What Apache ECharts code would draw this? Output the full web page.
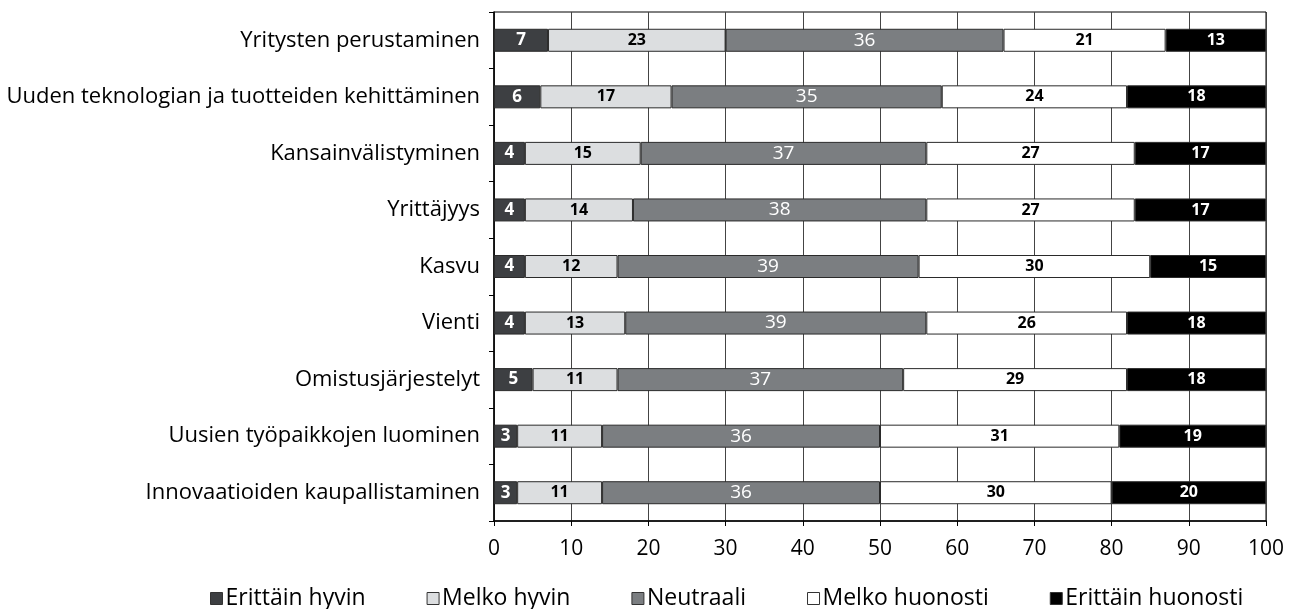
<!DOCTYPE html>
<html>
<head>
<meta charset="utf-8">
<script src="https://cdn.jsdelivr.net/npm/echarts@6/dist/echarts.min.js"></script>
<style>
  html, body { margin: 0; padding: 0; background: #fff; }
  #chart { width: 1293px; height: 609px; }
</style>
</head>
<body>
<div id="chart"></div>
<script>
var categories = [
  "Yritysten perustaminen",
  "Uuden teknologian ja tuotteiden kehittäminen",
  "Kansainvälistyminen",
  "Yrittäjyys",
  "Kasvu",
  "Vienti",
  "Omistusjärjestelyt",
  "Uusien työpaikkojen luominen",
  "Innovaatioiden kaupallistaminen"
];
var seriesNames = ["Erittäin hyvin", "Melko hyvin", "Neutraali", "Melko huonosti", "Erittäin huonosti"];
var erittainHyvin = [7, 6, 4, 4, 4, 4, 5, 3, 3];
var melkoHyvin = [23, 17, 15, 14, 12, 13, 11, 11, 11];
var neutraali = [36, 35, 37, 38, 39, 39, 37, 36, 36];
var melkoHuonosti = [21, 24, 27, 27, 30, 26, 29, 31, 30];
var erittainHuonosti = [13, 18, 17, 17, 15, 18, 18, 19, 20];
var xTicks = { min: 0, max: 100, interval: 10 };

var font = "'Open Sans', sans-serif";
var values = [erittainHyvin, melkoHyvin, neutraali, melkoHuonosti, erittainHuonosti];
var colors = ["#3d3f42", "#dcdee0", "#7b7e81", "#ffffff", "#000000"];
var labelColors = ["#fff", "#000", "#fff", "#000", "#fff"];
var labelWeights = ["bold", "bold", "normal", "bold", "bold"];
var labelSizes = [17, 16, 19, 16, 16];

var series = values.map(function (data, i) {
  return {
    name: seriesNames[i],
    type: "bar",
    stack: "total",
    barWidth: 23,
    data: data,
    itemStyle: {
      color: colors[i],
      borderColor: "#2a2a2a",
      borderWidth: 1
    },
    label: {
      show: true,
      position: "inside",
      color: labelColors[i],
      fontWeight: labelWeights[i],
      fontSize: labelSizes[i],
      fontFamily: font
    }
  };
});

var chart = echarts.init(document.getElementById("chart"));
chart.setOption({
  animation: false,
  grid: {
    left: 494,
    right: 27,
    top: 12,
    bottom: 88,
    show: true,
    borderColor: "#000",
    borderWidth: 1
  },
  legend: {
    data: seriesNames,
    left: 205,
    top: 582,
    itemWidth: 12,
    itemHeight: 12,
    itemGap: 61,
    icon: "rect",
    itemStyle: { borderColor: "#333", borderWidth: 1 },
    textStyle: { fontSize: 23, color: "#000", fontFamily: font, padding: [0, 0, 0, -2] }
  },
  xAxis: {
    type: "value",
    min: xTicks.min,
    max: xTicks.max,
    interval: xTicks.interval,
    axisLine: { show: true, lineStyle: { color: "#000", width: 1.5 } },
    axisTick: { show: true, length: 5, lineStyle: { color: "#000" } },
    axisLabel: { color: "#000", fontSize: 21, fontFamily: font, margin: 18 },
    splitLine: { show: true, lineStyle: { color: "#444", width: 1 } }
  },
  yAxis: {
    type: "category",
    inverse: true,
    data: categories,
    axisLine: { show: true, lineStyle: { color: "#000", width: 1.5 } },
    axisTick: { show: true, length: 5, lineStyle: { color: "#000" } },
    axisLabel: { color: "#000", fontSize: 22, fontFamily: font, margin: 14 },
    splitLine: { show: false }
  },
  series: series
});
</script>
</body>
</html>
